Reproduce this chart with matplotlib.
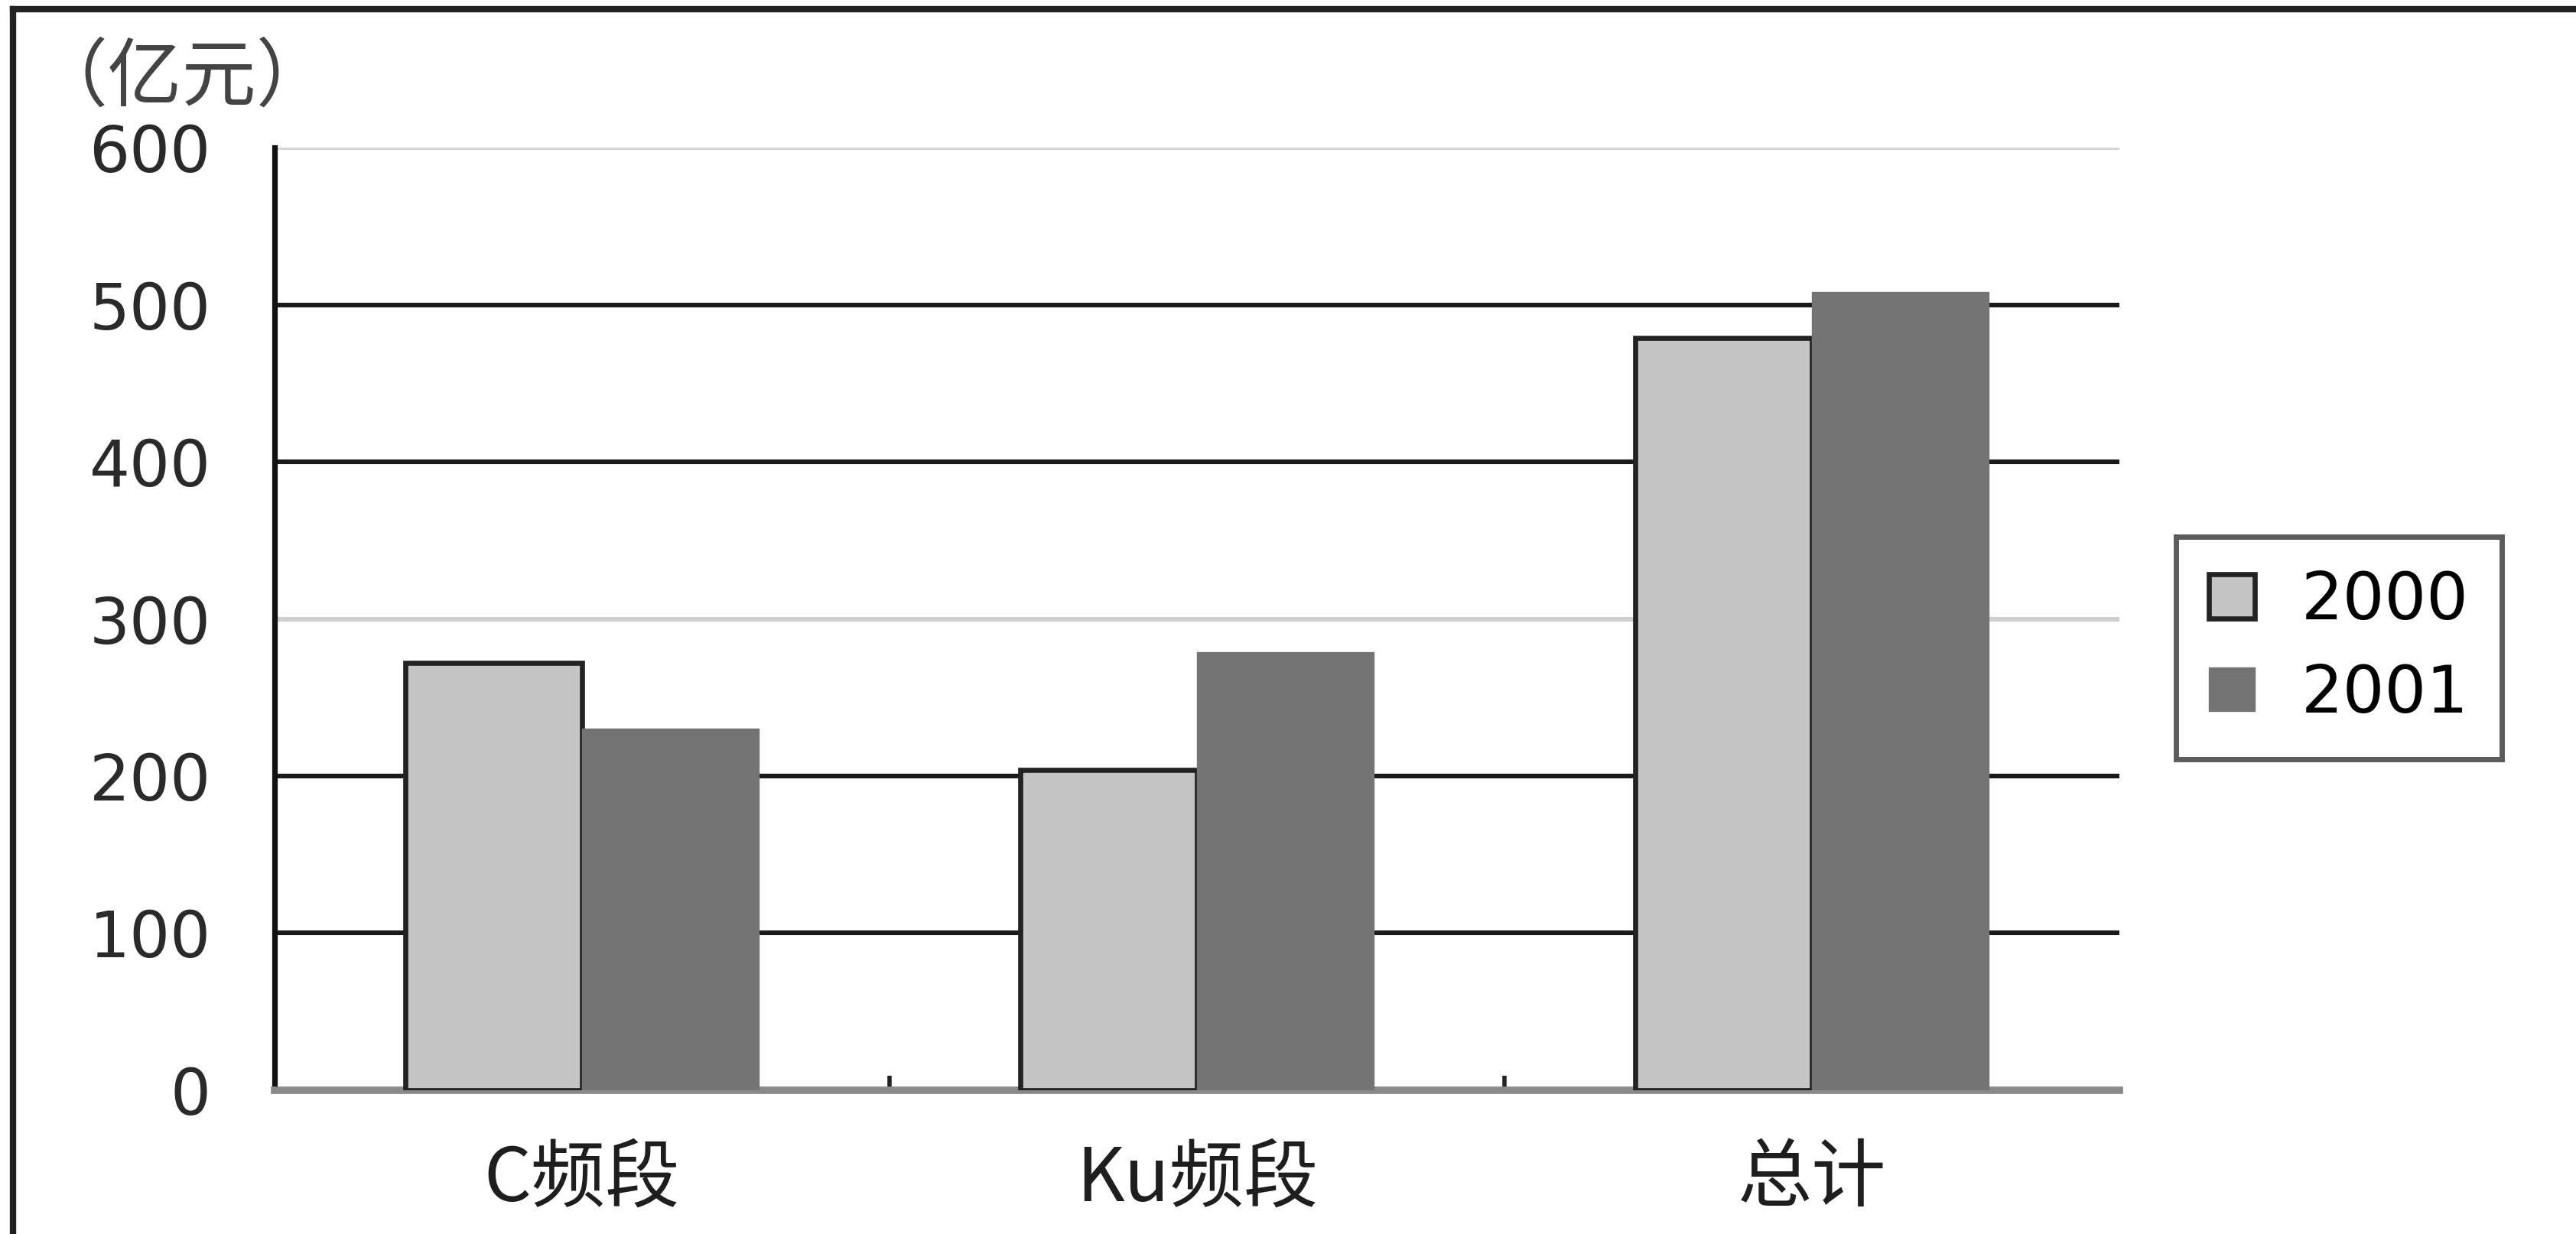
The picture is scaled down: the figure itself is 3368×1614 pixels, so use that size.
import matplotlib.pyplot as plt
from matplotlib.lines import Line2D
import numpy as np

plt.rcParams['font.family'] = ['Noto Sans CJK SC', 'DejaVu Sans']

# 卫星转发器市场规模（亿元）
categories = ['C频段', 'Ku频段', '总计']
years = ['2000', '2001']
values_2000 = [272, 204, 479]
values_2001 = [230, 279, 508]
y_ticks = [0, 100, 200, 300, 400, 500, 600]
unit_label = '（亿元）'

fig = plt.figure(figsize=(16.84, 8.07), dpi=200)
ax = fig.add_axes([0.1066, 0.1165, 0.7161, 0.7639])

x = np.arange(len(categories))
width = 0.287
ax.bar(x - width / 2, values_2000, width, color='#c4c4c4', edgecolor='#222222',
       linewidth=2.4, label=years[0], zorder=3)
ax.bar(x + width / 2, values_2001, width, color='#747474', edgecolor='#747474',
       linewidth=0.5, label=years[1], zorder=3)

# horizontal grid; two of the lines came out faint in the printed original
grid_colors = ['#1a1a1a', '#1a1a1a', '#cfcfcf', '#1a1a1a', '#1a1a1a', '#d6d6d6']
for yv, c in zip(y_ticks[1:], grid_colors):
    ax.axhline(yv, color=c, linewidth=2.2, zorder=1)

ax.set_xlim(-0.5, len(categories) - 0.5)
ax.set_ylim(0, 600)

for side in ['top', 'right']:
    ax.spines[side].set_visible(False)
ax.spines['left'].set_color('#111111')
ax.spines['left'].set_linewidth(2.6)
ax.spines['bottom'].set_color('#8a8a8a')
ax.spines['bottom'].set_linewidth(3.5)

ax.set_yticks(y_ticks)
ax.tick_params(axis='y', length=0, pad=30, labelsize=30, labelcolor='#2a2a2a')
for lbl in ax.get_yticklabels():
    lbl.set_fontfamily('DejaVu Sans')

ax.set_xticks(x, categories)
ax.tick_params(axis='x', which='major', length=0, pad=24, labelsize=35, labelcolor='#1e1e1e')
ax.set_xticks([0.5, 1.5], minor=True)
ax.tick_params(axis='x', which='minor', direction='in', length=7, width=2, color='#222222')

leg = fig.legend(loc='upper left', bbox_to_anchor=(0.8447, 0.565), frameon=True,
                 fancybox=False, edgecolor='#333333', prop={'family': 'DejaVu Sans', 'size': 31},
                 handlelength=0.7, handleheight=0.65, handletextpad=0.7,
                 borderpad=0.5, labelspacing=0.45, borderaxespad=0)
leg.get_frame().set_linewidth(2.5)

fig.text(0.013, 0.936, unit_label, fontsize=35, color='#444444', va='center', ha='left')

# outer frame (left and top edges)
fig.add_artist(Line2D([0.005, 0.005], [0, 0.9926], color='#222222', lw=3))
fig.add_artist(Line2D([0.005, 1], [0.9926, 0.9926], color='#222222', lw=3))

fig.savefig('out.png', dpi=200, facecolor='white')
